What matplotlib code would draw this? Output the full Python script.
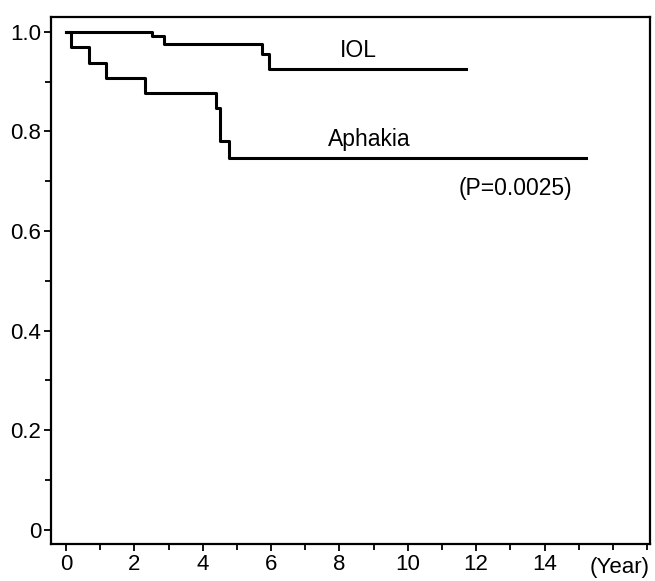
import matplotlib
matplotlib.use("Agg")
import matplotlib.pyplot as plt
from matplotlib.ticker import MultipleLocator

# survival curves (year, cumulative survival)
iol_years = [0.0, 2.5, 2.87, 5.72, 5.95, 11.7]
iol_surv = [1.0, 0.992, 0.976, 0.955, 0.925, 0.925]

aph_years = [0.0, 0.15, 0.68, 1.17, 2.31, 4.40, 4.50, 4.77, 15.2]
aph_surv = [1.0, 0.970, 0.938, 0.908, 0.878, 0.846, 0.780, 0.747, 0.747]

x_ticks = [0, 2, 4, 6, 8, 10, 12, 14]
y_ticks = [0, 0.2, 0.4, 0.6, 0.8, 1.0]
y_tick_labels = ["0", "0.2", "0.4", "0.6", "0.8", "1.0"]

plt.rcParams["font.family"] = ["Liberation Sans", "DejaVu Sans"]

fig = plt.figure(figsize=(6.55, 5.81), dpi=100)
ax = fig.add_axes([0.078, 0.064, 0.914, 0.907])

ax.step(iol_years, iol_surv, where="post", color="black", linewidth=2.2)
ax.step(aph_years, aph_surv, where="post", color="black", linewidth=2.2)

ax.text(8.0, 0.962, "IOL", fontsize=16.5, va="center", ha="left")
ax.text(7.65, 0.783, "Aphakia", fontsize=16.5, va="center", ha="left")
ax.text(11.5, 0.685, "(P=0.0025)", fontsize=16.5, va="center", ha="left")

ax.set_xlim(-0.44, 17.08)
ax.set_ylim(-0.028, 1.030)
ax.set_xticks(x_ticks)
ax.set_yticks(y_ticks)
ax.set_yticklabels(y_tick_labels)
ax.xaxis.set_minor_locator(MultipleLocator(1))
ax.yaxis.set_minor_locator(MultipleLocator(0.1))
ax.tick_params(which="both", direction="out", width=1.3, labelsize=16,
               top=False, right=False)
ax.tick_params(which="major", length=5, pad=2)
ax.tick_params(which="minor", length=4)
for sp in ax.spines.values():
    sp.set_linewidth(1.6)

fig.text(620 / 655, 1 - 568 / 581, "(Year)", fontsize=16, ha="center", va="center")

fig.savefig("out.png", dpi=100)
